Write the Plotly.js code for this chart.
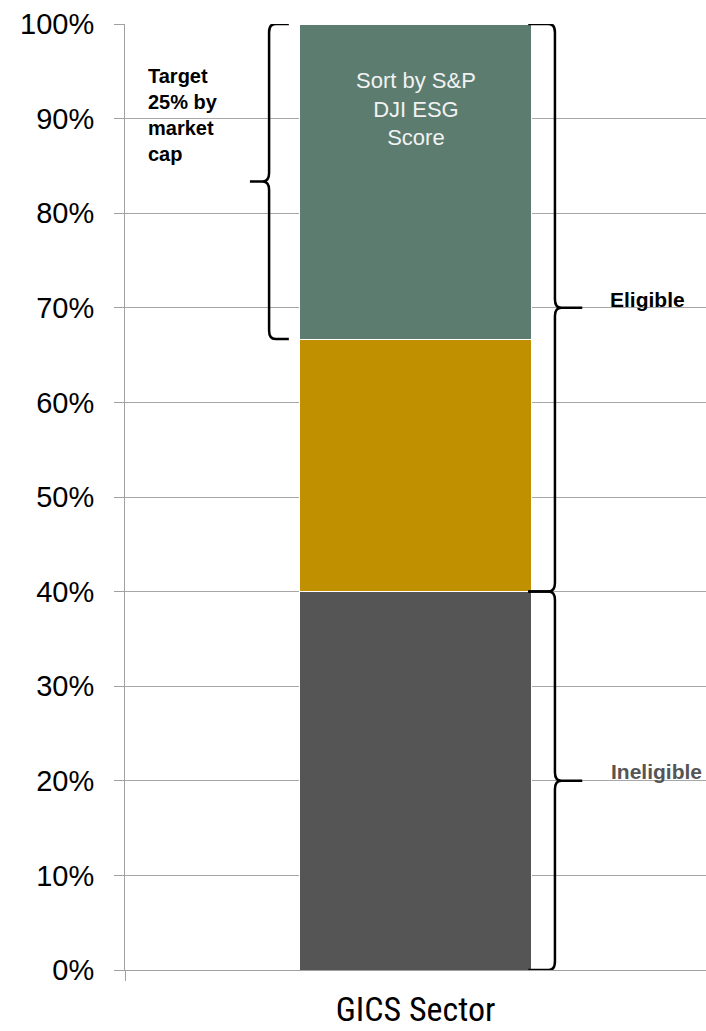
<!DOCTYPE html>
<html>
<head>
<meta charset="utf-8">
<script src="https://cdn.plot.ly/plotly-3.0.1.min.js"></script>
<style>
  html, body { margin: 0; padding: 0; background: #ffffff; }
  #chart { width: 706px; height: 1031px; }
</style>
</head>
<body>
<div id="chart"></div>
<script>
// Stacked share of one GICS sector, in percent of market cap
const categories = ['GICS Sector'];
const segmentNames = ['Ineligible', 'Eligible', 'Target'];
const ineligibleShare = [40];
const eligibleShare = [26.7];
const targetShare = [33.3];
const segmentColors = ['#555555', '#C09000', '#5B7C6F'];

const yTickValues = [0, 10, 20, 30, 40, 50, 60, 70, 80, 90, 100];
const yTickLabels = yTickValues.map(v => v + '%');

// Cumulative boundaries of the stack, used to place the braces
const bottomTop = ineligibleShare[0];
const middleTop = bottomTop + eligibleShare[0];
const stackTop = middleTop + targetShare[0];

const series = [ineligibleShare, eligibleShare, targetShare];
const traces = series.map((vals, i) => ({
  type: 'bar',
  name: segmentNames[i],
  x: categories,
  y: vals,
  marker: { color: segmentColors[i], line: { color: '#ffffff', width: 1 } },
  hoverinfo: 'skip'
}));

// Curly brace built from quadratic curves; x in paper units, y in data units.
// end = x of the two hooks, spine = x of the vertical stroke, tip = x of the point.
function bracePath(end, spine, tip, yTop, yBottom, r, c) {
  const yMid = (yTop + yBottom) / 2;
  const dir = Math.sign(tip - spine);
  const endDir = Math.sign(end - spine);
  return [
    `M ${end},${yTop}`,
    `L ${spine + endDir * c},${yTop}`,
    `Q ${spine},${yTop} ${spine},${yTop - r}`,
    `L ${spine},${yMid + r}`,
    `Q ${spine},${yMid} ${spine + dir * c},${yMid}`,
    `L ${tip},${yMid}`,
    `M ${spine + dir * c},${yMid}`,
    `Q ${spine},${yMid} ${spine},${yMid - r}`,
    `L ${spine},${yBottom + r}`,
    `Q ${spine},${yBottom} ${spine + endDir * c},${yBottom}`,
    `L ${end},${yBottom}`
  ].join(' ');
}

const braceLine = { color: '#000000', width: 2.5 };
const shapes = [
  { type: 'path', xref: 'paper', yref: 'y',
    path: bracePath(0.282, 0.248, 0.215, stackTop, middleTop, 0.9, 0.011), line: braceLine },
  { type: 'path', xref: 'paper', yref: 'y',
    path: bracePath(0.694, 0.740, 0.787, stackTop, bottomTop, 0.9, 0.011), line: braceLine },
  { type: 'path', xref: 'paper', yref: 'y',
    path: bracePath(0.694, 0.740, 0.787, bottomTop, 0, 0.9, 0.011), line: braceLine }
];

const annotations = [
  { xref: 'x', yref: 'y', x: categories[0], y: 91,
    text: 'Sort by S&amp;P<br>DJI ESG<br>Score', showarrow: false,
    font: { family: 'Liberation Sans, Arial, sans-serif', size: 22, color: '#F2F2F2' },
    align: 'center', xanchor: 'center', yanchor: 'middle' },
  { xref: 'paper', yref: 'y', x: 0.036, y: 90.4,
    text: '<b>Target<br>25% by<br>market<br>cap</b>', showarrow: false,
    font: { family: 'Liberation Sans, Arial, sans-serif', size: 20, color: '#000000' },
    align: 'left', xanchor: 'left', yanchor: 'middle' },
  { xref: 'paper', yref: 'y', x: 0.900, y: (stackTop + bottomTop) / 2, yshift: 8,
    text: '<b>Eligible</b>', showarrow: false,
    font: { family: 'Liberation Sans, Arial, sans-serif', size: 21, color: '#000000' },
    xanchor: 'center', yanchor: 'middle' },
  { xref: 'paper', yref: 'y', x: 0.914, y: bottomTop / 2, yshift: 9,
    text: '<b>Ineligible</b>', showarrow: false,
    font: { family: 'Liberation Sans, Arial, sans-serif', size: 21, color: '#555555' },
    xanchor: 'center', yanchor: 'middle' }
];

const layout = {
  width: 706,
  height: 1031,
  margin: { l: 125, r: 0, t: 24, b: 61 },
  paper_bgcolor: '#ffffff',
  plot_bgcolor: '#ffffff',
  barmode: 'stack',
  bargap: 0.6,
  showlegend: false,
  xaxis: {
    type: 'category',
    range: [-0.5, 0.5],
    showgrid: false,
    showline: true,
    linecolor: '#A0A0A0',
    linewidth: 1,
    ticks: 'outside',
    tickson: 'boundaries',
    ticklen: 10,
    tickcolor: '#A0A0A0',
    tickfont: { family: 'Liberation Sans Narrow, Roboto Condensed, DejaVu Sans Condensed, sans-serif', size: 34, color: '#000000' },
    ticklabelstandoff: 9,
    fixedrange: true
  },
  yaxis: {
    range: [0, 100],
    tickmode: 'array',
    tickvals: yTickValues,
    ticktext: yTickLabels,
    showgrid: true,
    gridcolor: '#A6A6A6',
    gridwidth: 1,
    zeroline: false,
    showline: true,
    linecolor: '#A0A0A0',
    linewidth: 1,
    ticks: 'outside',
    ticklen: 10,
    tickcolor: '#A0A0A0',
    tickfont: { family: 'Liberation Sans, Arial, sans-serif', size: 29, color: '#000000' },
    ticklabelstandoff: 14,
    fixedrange: true
  },
  shapes: shapes,
  annotations: annotations
};

Plotly.newPlot('chart', traces, layout, { displayModeBar: false, staticPlot: true });
</script>
</body>
</html>
